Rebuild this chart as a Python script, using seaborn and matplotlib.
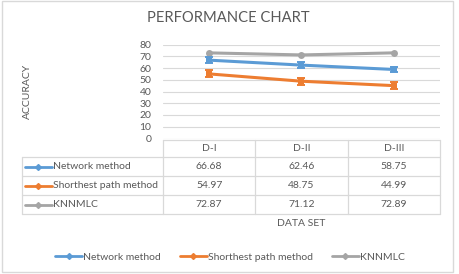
import matplotlib

matplotlib.use("Agg")
import matplotlib.pyplot as plt
import numpy as np
import pandas as pd
import seaborn as sns
from matplotlib.lines import Line2D
from matplotlib.patches import Rectangle

# ---- data ----
datasets = ["D-I", "D-II", "D-III"]
methods = ["Network method", "Shorthest path method", "KNNMLC"]
network = [66.68, 62.46, 58.75]
shortest = [54.97, 48.75, 44.99]
knnmlc = [72.87, 71.12, 72.89]
network_err = [2.5, 2.5, 2.5]
shortest_err = [3.0, 3.0, 3.0]
yticks = [0, 10, 20, 30, 40, 50, 60, 70, 80]

colors = ["#5B9BD5", "#ED7D31", "#A5A5A5"]
text_color = "#595959"
line_gray = "#D9D9D9"

W, H = 460, 274


def px(x, y):
    """Pixel position (top-left origin) -> figure fraction."""
    return x / W, 1 - y / H


sns.set_theme(style="white")
plt.rcParams["font.family"] = ["Lato", "DejaVu Sans"]

df = pd.DataFrame(
    {
        "dataset": datasets * 3,
        "method": np.repeat(methods, 3),
        "accuracy": network + shortest + knnmlc,
    }
)

fig = plt.figure(figsize=(W / 100, H / 100), dpi=100)
fig.patch.set_facecolor("white")

# chart border
fig.patches.append(
    Rectangle(px(2, 272), 451 / W, 271 / H, transform=fig.transFigure,
              fill=False, edgecolor=line_gray, lw=1.0)
)

left, top = px(163, 44.5)
right, bottom = px(440, 138.5)
ax = fig.add_axes([left, bottom, right - left, top - bottom])

sns.lineplot(
    data=df, x="dataset", y="accuracy", hue="method", style="method",
    palette=colors, markers={"Network method": "s", "Shorthest path method": "s",
                             "KNNMLC": "o"},
    dashes=False, linewidth=2.2, markersize=5, markeredgewidth=0,
    legend=False, ax=ax, zorder=3,
)
pos = np.arange(len(datasets))
for vals, err, c in [(network, network_err, colors[0]),
                     (shortest, shortest_err, colors[1])]:
    ax.errorbar(pos, vals, yerr=err, fmt="none", ecolor=c, elinewidth=1.4,
                capsize=3, capthick=1.4, zorder=4)

ax.set_xlim(-0.5, 2.5)
ax.set_ylim(0, 80)
ax.set_yticks(yticks)
ax.set_yticklabels([str(t) for t in yticks], color=text_color, fontsize=7.5)
ax.tick_params(axis="y", length=0, pad=8.5)
ax.set_xticks([])
ax.set_xlabel("")
ax.set_ylabel("")
ax.grid(axis="y", color=line_gray, lw=0.8)
ax.set_axisbelow(True)
for s in ax.spines.values():
    s.set_visible(False)

fig.text(*px(228, 18), "PERFORMANCE CHART", ha="center", va="center",
         fontsize=10.6, color=text_color)
fig.text(*px(27, 91), "ACCURACY", ha="center", va="center", rotation=90,
         fontsize=7.5, color=text_color)
fig.text(*px(301, 224), "DATA SET", ha="center", va="center",
         fontsize=7.5, color=text_color)

# ---- data table below the plot ----
col_edges = [22, 163, 255.3, 347.7, 440]
row_edges = [140, 157, 176, 195, 214]


def hline(x0, x1, y):
    fig.add_artist(Line2D([px(x0, y)[0], px(x1, y)[0]], [px(x0, y)[1]] * 2,
                          transform=fig.transFigure, color=line_gray, lw=0.9))


def vline(x, y0, y1):
    fig.add_artist(Line2D([px(x, y0)[0]] * 2, [px(x, y0)[1], px(x, y1)[1]],
                          transform=fig.transFigure, color=line_gray, lw=0.9))


hline(col_edges[1], col_edges[-1], row_edges[0])
for y in row_edges[1:]:
    hline(col_edges[0], col_edges[-1], y)
vline(col_edges[0], row_edges[1], row_edges[-1])
for x in col_edges[1:]:
    vline(x, row_edges[0], row_edges[-1])

for j, name in enumerate(datasets):
    cx = (col_edges[j + 1] + col_edges[j + 2]) / 2
    cy = (row_edges[0] + row_edges[1]) / 2
    fig.text(*px(cx, cy), name, ha="center", va="center", fontsize=7.5,
             color=text_color)

for i, (name, vals) in enumerate(zip(methods, [network, shortest, knnmlc])):
    cy = (row_edges[i + 1] + row_edges[i + 2]) / 2
    x0, y0 = px(25, cy)
    x1, _ = px(52, cy)
    fig.add_artist(Line2D([x0, x1], [y0, y0], transform=fig.transFigure,
                          color=colors[i], lw=2.0))
    fig.add_artist(Line2D([(x0 + x1) / 2], [y0], transform=fig.transFigure,
                          color=colors[i], marker="D", markersize=3, lw=0))
    fig.text(*px(53, cy), name, ha="left", va="center", fontsize=7.5,
             color=text_color)
    for j, v in enumerate(vals):
        cx = (col_edges[j + 1] + col_edges[j + 2]) / 2
        fig.text(*px(cx, cy), f"{v:.2f}", ha="center", va="center",
                 fontsize=7.5, color=text_color)

# ---- legend ----
handles = [Line2D([], [], color=c, lw=2.0, marker="D", markersize=3)
           for c in colors]
fig.legend(handles, methods, loc="center", bbox_to_anchor=px(230, 257),
           ncol=3, frameon=False, fontsize=7.5, labelcolor=text_color,
           handlelength=2.6, handletextpad=0.1, columnspacing=1.8)

fig.savefig("out.png", dpi=100)
